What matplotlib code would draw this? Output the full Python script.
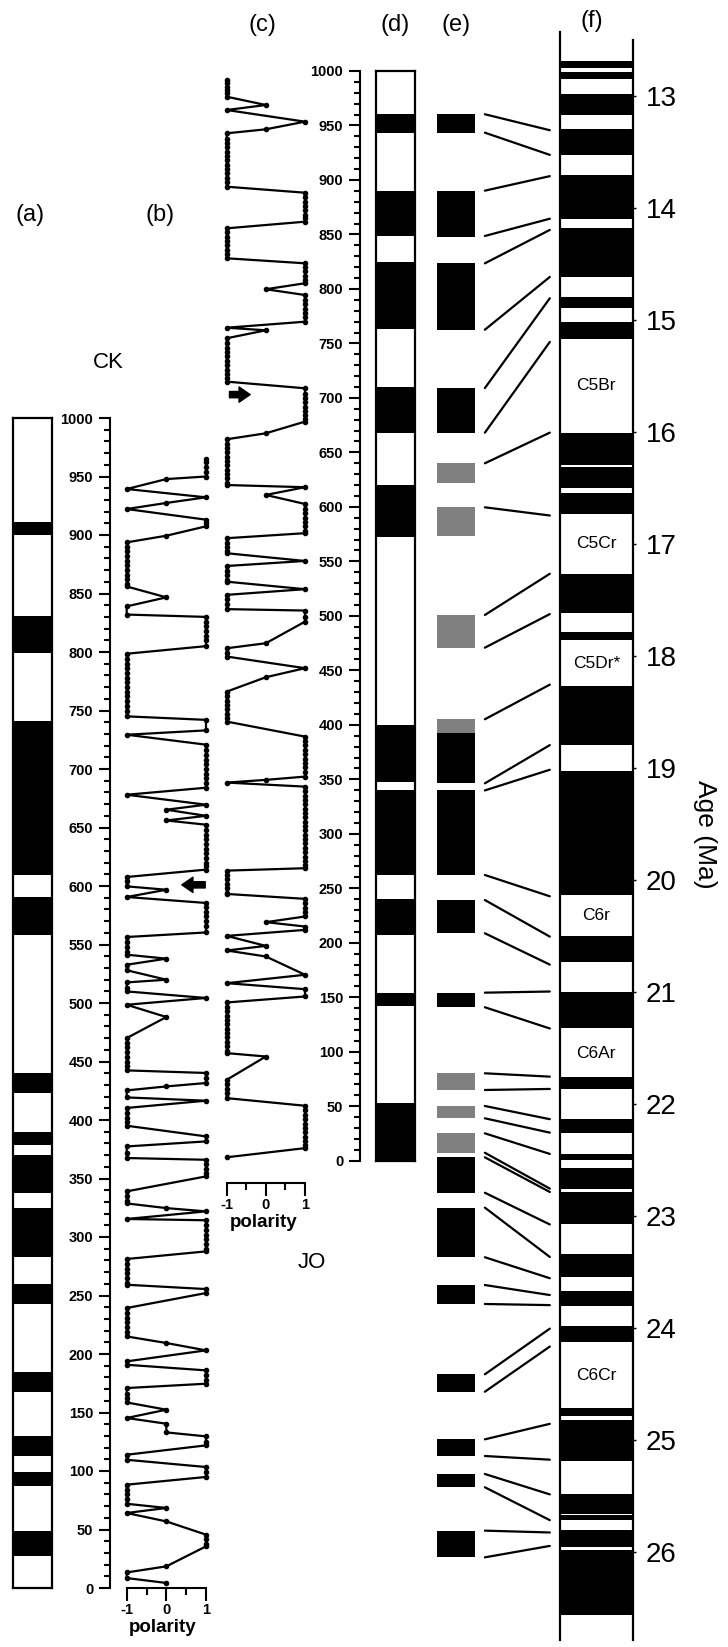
import matplotlib
matplotlib.use("Agg")
import matplotlib.pyplot as plt
from matplotlib.patches import ConnectionPatch
from matplotlib.ticker import MultipleLocator

plt.rcParams['font.family'] = ['Liberation Sans', 'DejaVu Sans']

W, H = 728, 1647

# --- (a) CK section: normal-polarity intervals (m) ---
CK_NORMAL = [(27.6, 49.0), (87.4, 98.8), (112.5, 129.6), (167.2, 184.3),
             (242.7, 259.8), (283.0, 324.8), (337.6, 369.7), (378.3, 389.7),
             (423.0, 440.2), (558.4, 590.6), (609.0, 741.0), (799.5, 831.0),
             (900.0, 911.0)]

# --- (b) CK polarity log ---
CK_DEPTH = [965, 962, 958, 954, 950, 947.8, 939.3, 932.2, 927.4, 922.2,
            913.1, 910.3, 907.4, 899.4, 893.7, 890, 886, 882, 878, 874,
            870, 866, 862, 858, 856, 846.7, 839, 832, 830, 826, 822, 818,
            814, 810, 805, 798.5, 794, 790, 786, 782, 778, 774, 770, 766,
            762, 758, 754, 750, 745, 742, 733, 729.3, 720.8, 716, 712, 708,
            704, 700, 696, 692, 688, 684, 678, 669.5, 665.2, 660, 656,
            652.4, 648, 644, 640, 636, 632, 628, 624, 620, 617, 614, 607.7,
            604, 599.7, 596.8, 590.6, 585.5, 582, 578, 574, 570, 566,
            560.3, 556.4, 552, 548, 544, 541.3, 537.9, 532.7, 528, 519.9,
            517.6, 513, 509.9, 504.3, 498.5, 488, 470, 466, 462, 458, 454,
            450, 446, 442.4, 440.2, 436, 431.6, 428.7, 425.3, 419.3, 416.5,
            410.3, 406, 402, 398, 395.1, 386, 381.7, 377.4, 372, 367.5,
            366, 362, 358, 355, 351.8, 339, 335, 331, 328.7, 324.7, 321.9,
            315.4, 314.3, 310, 306, 302, 298, 294, 290, 287.7, 281.2, 277,
            273, 269, 265, 261, 259.2, 255.5, 252.1, 239.3, 235, 231, 227,
            223, 219, 215, 209.4, 203.1, 193.7, 190.8, 186, 182, 178,
            174.6, 170.9, 166, 162, 158.6, 152.4, 145.3, 140.4, 133, 129.6,
            125, 121.9, 113.9, 109.6, 103.4, 99, 94.9, 88.3, 84, 80, 76,
            72, 68.4, 64.1, 56.9, 45.6, 42, 38, 35.6, 18.5, 13.3, 8.5, 4.3]
CK_POL = [1, 1, 1, 1, 1, 0, -1, 1, 0, -1,
          1, 1, 1, 0, -1, -1, -1, -1, -1, -1,
          -1, -1, -1, -1, -1, 0, -1, -1, 1, 1, 1, 1,
          1, 1, 1, -1, -1, -1, -1, -1, -1, -1, -1, -1,
          -1, -1, -1, -1, -1, 1, 1, -1, 1, 1, 1, 1,
          1, 1, 1, 1, 1, 1, -1, 1, 0, 1, 0,
          1, 1, 1, 1, 1, 1, 1, 1, 1, 1, 1, -1,
          -1, -1, 0, -1, 1, 1, 1, 1, 1, 1,
          1, -1, -1, -1, -1, -1, 0, -1, -1, 0,
          -1, -1, -1, 1, -1, 0, -1, -1, -1, -1, -1,
          -1, -1, -1, 1, 1, 1, 0, -1, -1, 1,
          -1, -1, -1, -1, -1, 1, 1, -1, -1, -1,
          1, 1, 1, 1, 1, -1, -1, -1, -1, 0, 1,
          -1, 1, 1, 1, 1, 1, 1, 1, 1, -1, -1,
          -1, -1, -1, -1, -1, 1, 1, -1, -1, -1, -1,
          -1, -1, -1, 0, 1, -1, -1, 1, 1, 1,
          1, -1, -1, -1, -1, 0, -1, 0, 0, 1,
          1, 1, -1, -1, 1, 1, 1, -1, -1, -1, -1,
          -1, 0, -1, 0, 1, 1, 1, 1, 0, -1, -1, 0]

# --- (c) JO polarity log ---
JO_DEPTH = [991.7, 988.7, 985.6, 982.5, 979.5, 976.4, 968.8, 964.2, 953.5,
            946.5, 942.8, 938, 934, 930, 926, 922, 918, 914, 910, 906, 902,
            898, 893.8, 888.3, 884, 880, 876, 872, 868, 865, 861.7, 855.6,
            852, 848, 844, 840, 836, 832, 828.1, 823.5, 820, 816, 812, 808,
            805.2, 799.7, 794.4, 790, 786, 782, 778, 774, 769.9, 764.4,
            762, 754.7, 750, 746, 742, 738, 734, 730, 726, 722, 718, 714.9,
            708.8, 704, 700, 696, 692, 688, 684, 681, 678.2, 667.5, 662,
            658, 654, 650, 646, 642, 638, 634, 630, 626, 622, 620, 618,
            610.9, 602.6, 598, 594, 590, 586, 582, 578, 575.8, 571.2, 567,
            563, 559, 557.4, 550.3, 545.7, 541, 537, 533, 531.3, 524.4,
            519.2, 515, 511, 506.1, 504.8, 499, 494.6, 474.8, 470.2, 466,
            462.6, 451.9, 443.6, 430.4, 426, 422, 418, 414, 410, 406,
            402.9, 389.1, 385, 381, 377, 373, 369, 365, 361, 357, 352.4,
            349.4, 346.9, 343.2, 339, 335, 331, 327, 323, 319, 315, 311,
            307, 303, 299, 295, 291, 287, 283, 279, 275, 271, 268.3, 266.1,
            262, 258, 254, 250, 246, 244.7, 240.2, 236, 232, 228, 224,
            218.8, 214.8, 211.7, 206.2, 197, 192.8, 187.3, 170.5, 162.8,
            157.3, 150.6, 145.1, 141, 137, 133, 129, 125, 121, 117, 113,
            109, 105, 101, 98.6, 95.5, 74.1, 70, 66, 62, 57.3, 50.3, 46,
            42, 38, 34, 30, 26, 22, 18, 14, 11.4, 3]
JO_POL = [-1, -1, -1, -1, -1, -1, 0, -1, 1,
          0, -1, -1, -1, -1, -1, -1, -1, -1, -1, -1, -1,
          -1, -1, 1, 1, 1, 1, 1, 1, 1, 1, -1,
          -1, -1, -1, -1, -1, -1, -1, 1, 1, 1, 1, 1,
          1, 0, 1, 1, 1, 1, 1, 1, 1, -1,
          0, -1, -1, -1, -1, -1, -1, -1, -1, -1, -1, -1,
          1, 1, 1, 1, 1, 1, 1, 1, 1, 0, -1,
          -1, -1, -1, -1, -1, -1, -1, -1, -1, -1, -1, 1,
          0, 1, 1, 1, 1, 1, 1, 1, 1, -1, -1,
          -1, -1, -1, 1, -1, -1, -1, -1, -1, 1,
          -1, -1, -1, -1, 1, 1, 1, 0, -1, -1,
          -1, 1, 0, -1, -1, -1, -1, -1, -1, -1,
          -1, 1, 1, 1, 1, 1, 1, 1, 1, 1, 1,
          0, -1, 1, 1, 1, 1, 1, 1, 1, 1, 1,
          1, 1, 1, 1, 1, 1, 1, 1, 1, 1, 1, -1,
          -1, -1, -1, -1, -1, -1, 1, 1, 1, 1, 1,
          0, 1, 1, -1, 0, -1, 0, 1, -1,
          1, 1, -1, -1, -1, -1, -1, -1, -1, -1, -1,
          -1, -1, -1, -1, 0, -1, -1, -1, -1, -1, 1, 1,
          1, 1, 1, 1, 1, 1, 1, 1, 1, -1]

# --- (d) JO section: normal-polarity intervals (m) ---
JO_NORMAL = [(0.0, 52.7), (142.0, 154.2), (207.1, 239.9), (262.2, 340.2),
             (347.8, 399.8), (572.6, 620.1), (668.1, 709.7), (763.2, 825.0),
             (848.6, 890.2), (943.4, 960.3)]

# --- (e) composite: normal and uncertain intervals (m, below 0 = lower part) ---
COMP_NORMAL = [(943.4, 960.3), (848.0, 890.0), (762.6, 823.5), (668.0, 709.0),
               (346.3, 392.8), (262.2, 339.8), (208.7, 239.2), (140.8, 154.2),
               (-29.4, 3.1), (-88.6, -43.1), (-131.5, -114.1), (-212.0, -196.0),
               (-271.0, -255.7), (-299.7, -287.5), (-364.0, -339.5)]
COMP_UNCERTAIN = [(622.2, 640.0), (573.6, 599.6), (470.8, 500.8), (392.8, 405.1),
                  (64.9, 80.2), (38.9, 50.2), (7.3, 25.1)]

# --- (f) GPTS: normal chrons (Ma) ---
GPTS_NORMAL = [(12.69, 12.75), (12.79, 12.85), (12.99, 13.17), (13.30, 13.53),
               (13.71, 14.10), (14.18, 14.62), (14.80, 14.90), (15.02, 15.17),
               (16.01, 16.30), (16.32, 16.50), (16.55, 16.74), (17.27, 17.62),
               (17.79, 17.86), (18.27, 18.80), (19.03, 20.14), (20.50, 20.74),
               (21.00, 21.33), (21.76, 21.87), (22.14, 22.26), (22.45, 22.50),
               (22.58, 22.76), (22.79, 23.08), (23.34, 23.55), (23.67, 23.81),
               (23.99, 24.13), (24.72, 24.79), (24.83, 25.19), (25.49, 25.668),
               (25.675, 25.72), (25.81, 25.96), (25.99, 26.57)]
CHRON_NAMES = ["C5Br", "C5Cr", "C5Dr*", "C6r", "C6Ar", "C6Cr"]
CHRON_AGES = [15.59, 17.00, 18.07, 20.32, 21.55, 24.43]
AGE_TICKS = list(range(13, 27))

# --- tie lines: composite depth (m) -> GPTS age (Ma) ---
TIE_DEPTH = [960.3, 943.4, 890.2, 848.6, 823.5, 762.6, 709.0, 668.1, 640.0,
             599.6, 500.8, 470.8, 405.1, 346.3, 339.8, 262.2, 239.2, 208.7,
             154.2, 140.8, 80.2, 64.9, 50.2, 38.9, 25.1, 7.3, 3.1, -29.4,
             -43.1, -88.6, -114.1, -131.5, -196.0, -212.0, -255.7, -271.0,
             -287.5, -299.7, -339.5, -364.0]
TIE_AGE = [13.31, 13.53, 13.72, 14.10, 14.20, 14.62, 14.81, 15.20, 16.01,
           16.75, 17.27, 17.63, 18.26, 18.80, 19.02, 20.15, 20.51, 20.76,
           21.00, 21.33, 21.76, 21.87, 22.14, 22.26, 22.45, 22.76, 22.79,
           23.08, 23.37, 23.56, 23.71, 23.80, 24.01, 24.17, 24.86, 25.18,
           25.49, 25.72, 25.83, 25.95]


def px_box(x0, x1, y0, y1):
    """Axes rectangle from pixel edges, y counted from the top."""
    return [x0 / W, 1 - y1 / H, (x1 - x0) / W, (y1 - y0) / H]


def fig_text(fig, x, y, s, **kw):
    fig.text(x / W, 1 - y / H, s, ha='center', va='center', **kw)


def column(ax, intervals, color='black'):
    bottoms = [lo for lo, hi in intervals]
    heights = [hi - lo for lo, hi in intervals]
    ax.bar([0.5] * len(intervals), heights, bottom=bottoms, width=1.0,
           color=color, linewidth=0)
    ax.set_xlim(0, 1)
    ax.set_xticks([])
    ax.set_yticks([])


def style_depth_axis(ax):
    ax.yaxis.set_major_locator(MultipleLocator(50))
    ax.yaxis.set_minor_locator(MultipleLocator(10))
    ax.tick_params(axis='y', which='major', length=8, width=1.5, pad=4,
                   labelsize=10.5)
    ax.tick_params(axis='y', which='minor', length=4.5, width=1.5)
    for lab in ax.get_yticklabels():
        lab.set_fontweight('bold')
    ax.spines['left'].set_linewidth(1.5)
    ax.spines['left'].set_bounds(0, 1000)


def style_polarity_axis(ax):
    ax.set_xticks([-1, 0, 1])
    ax.set_xticklabels(['-1', '0', '1'], fontweight='bold')
    ax.xaxis.set_minor_locator(MultipleLocator(0.5))
    ax.tick_params(axis='x', which='major', length=9, width=1.5, pad=2,
                   labelsize=10.5)
    ax.tick_params(axis='x', which='minor', length=5, width=1.5)
    ax.spines['bottom'].set_linewidth(1.5)
    ax.spines['bottom'].set_bounds(-1, 1)
    ax.set_xlabel('polarity', fontsize=13.5, fontweight='bold', labelpad=1)


fig = plt.figure(figsize=(W / 100, H / 100), dpi=100)

# CK scale: 1000 m at y=418 px, 0 m at y=1588 px
ax_a = fig.add_axes(px_box(13, 52, 418, 1588))
column(ax_a, CK_NORMAL)
ax_a.set_ylim(0, 1000)
for sp in ax_a.spines.values():
    sp.set_linewidth(1.6)

ax_b = fig.add_axes(px_box(110, 215, 418, 1588))
ax_b.plot(CK_POL, CK_DEPTH, color='black', lw=1.6, marker='o', ms=3,
          clip_on=False)
ax_b.set_xlim(-1.421, 1.227)
ax_b.set_ylim(0, 1000)
for side in ('top', 'right'):
    ax_b.spines[side].set_visible(False)
style_depth_axis(ax_b)
style_polarity_axis(ax_b)
ax_b.annotate('', xy=(0.32, 601), xytext=(1.05, 601),
              arrowprops=dict(arrowstyle='simple,head_width=1.1,head_length=0.8,tail_width=0.45',
                              fc='black', ec='black'))

# JO scale: 1000 m at y=71 px, 0 m at y=1160.7 px
ax_c = fig.add_axes(px_box(215, 312, 71, 1183))
ax_c.plot(JO_POL, JO_DEPTH, color='black', lw=1.6, marker='o', ms=3,
          clip_on=False)
ax_c.set_xlim(-1.299, 1.179)
ax_c.set_ylim(-20.6, 1000)
for side in ('top', 'right', 'left'):
    ax_c.spines[side].set_visible(False)
ax_c.set_yticks([])
style_polarity_axis(ax_c)
ax_c.annotate('', xy=(-0.33, 703), xytext=(-1.0, 703),
              arrowprops=dict(arrowstyle='simple,head_width=1.1,head_length=0.8,tail_width=0.45',
                              fc='black', ec='black'))

ax_jo = fig.add_axes(px_box(360, 376, 71, 1160.7))
ax_jo.set_ylim(0, 1000)
for side in ('top', 'right', 'bottom'):
    ax_jo.spines[side].set_visible(False)
ax_jo.set_xticks([])
ax_jo.patch.set_visible(False)
style_depth_axis(ax_jo)

ax_d = fig.add_axes(px_box(376, 415, 71, 1160.7))
column(ax_d, JO_NORMAL)
ax_d.set_ylim(0, 1000)
for sp in ax_d.spines.values():
    sp.set_linewidth(1.6)

ax_e = fig.add_axes(px_box(437, 475, 71, 1575))
column(ax_e, COMP_NORMAL)
column(ax_e, COMP_UNCERTAIN, color='#808080')
ax_e.set_ylim(-380.2, 1000)
ax_e.axis('off')

# GPTS: 13 Ma at y=95.5 px, 112 px per Myr
ax_f = fig.add_axes(px_box(560, 632.7, 32, 1640))
column(ax_f, GPTS_NORMAL)
ax_f.set_ylim(26.79, 12.433)
ax_f.spines['top'].set_visible(False)
ax_f.spines['bottom'].set_visible(False)
ax_f.spines['left'].set_linewidth(1.6)
ax_f.spines['right'].set_linewidth(1.6)
ax_f.spines['right'].set_bounds(26.79, 12.504)
ax_f.yaxis.tick_right()
ax_f.set_yticks(AGE_TICKS)
ax_f.tick_params(axis='y', length=2.5, width=1, pad=7, labelsize=20)
ax_f.text(2.0, 19.6, 'Age (Ma)', fontsize=19, rotation=270,
          ha='center', va='center')
for name, age in zip(CHRON_NAMES, CHRON_AGES):
    ax_f.text(0.5, age, name, ha='center', va='center', fontsize=12.5)

for d, a in zip(TIE_DEPTH, TIE_AGE):
    con = ConnectionPatch(xyA=(1.26, d), coordsA=ax_e.transData,
                          xyB=(-0.14, a), coordsB=ax_f.transData,
                          color='black', lw=1.6)
    fig.add_artist(con)

for x, y, s in [(30, 215, '(a)'), (160, 215, '(b)'), (262, 25, '(c)'),
                (395, 25, '(d)'), (456, 25, '(e)'), (592, 21, '(f)')]:
    fig_text(fig, x, y, s, fontsize=17)
fig_text(fig, 108, 362, 'CK', fontsize=16)
fig_text(fig, 312, 1262, 'JO', fontsize=16)

fig.savefig('out.png', dpi=100)
